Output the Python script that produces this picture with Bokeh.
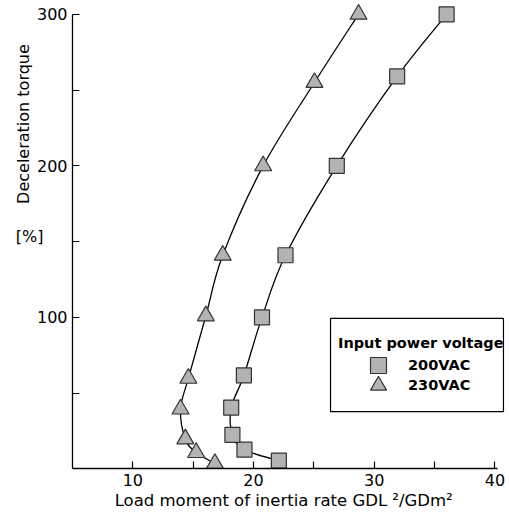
import numpy as np
from bokeh.plotting import figure
from bokeh.models import (Range1d, FixedTicker, Label, Legend, LegendItem,
                          BoxAnnotation)
from bokeh.embed import file_html
from bokeh.resources import INLINE

# ---- data ----
sq_x = [22.1, 19.25, 18.25, 18.15, 19.2, 20.7, 22.65, 26.9, 31.9, 36.0]
sq_y = [5.5, 12.7, 22.5, 40.5, 61.7, 100, 141, 200, 259, 300]
tri_x = [16.8, 15.25, 14.35, 13.95, 14.6, 16.05, 17.45, 20.8, 25.05, 28.7]
tri_y = [3.6, 10.8, 19.8, 39.5, 59.8, 101, 141, 200, 255, 300]
series_names = ["200VAC", "230VAC"]
legend_title = "Input power voltage"
x_ticks = [10, 15, 20, 25, 30, 35, 40]
x_tick_labels = ["10", "", "20", "", "30", "", "40"]
y_ticks = [50, 100, 150, 200, 250, 300]
y_tick_labels = ["", "100", "", "200", "", "300"]
x_title = "Load moment of inertia rate GDL \u00b2/GDm\u00b2"
y_title = "Deceleration torque"
y_unit = "[%]"

FONT = "DejaVu Sans"
FILL = "#b3b3b3"
EDGE = "#333333"
W, H = 509, 515


def smooth_segments(xs, ys):
    """Catmull-Rom -> cubic Bezier control points for a smooth line through the points."""
    xs = np.asarray(xs, float)
    ys = np.asarray(ys, float)
    n = len(xs)
    px = np.concatenate([[xs[0]], xs, [xs[-1]]])
    py = np.concatenate([[ys[0]], ys, [ys[-1]]])
    out = {k: [] for k in ("x0", "y0", "x1", "y1", "cx0", "cy0", "cx1", "cy1")}
    for i in range(1, n):
        out["x0"].append(px[i]); out["y0"].append(py[i])
        out["x1"].append(px[i + 1]); out["y1"].append(py[i + 1])
        out["cx0"].append(px[i] + (px[i + 1] - px[i - 1]) / 6)
        out["cy0"].append(py[i] + (py[i + 1] - py[i - 1]) / 6)
        out["cx1"].append(px[i + 1] - (px[i + 2] - px[i]) / 6)
        out["cy1"].append(py[i + 1] - (py[i + 2] - py[i]) / 6)
    return out


# frame covers the whole canvas; axes are pinned at x=5 / y=0
p = figure(width=W, height=H,
           x_range=Range1d(-0.966, 41.21), y_range=Range1d(-30.7, 309.1),
           output_backend="svg", toolbar_location=None,
           min_border_left=0, min_border_right=0,
           min_border_top=0, min_border_bottom=0)
p.outline_line_color = None
p.xgrid.visible = False
p.ygrid.visible = False
p.background_fill_color = "white"
p.border_fill_color = "white"

# curves
for xs, ys in ((sq_x, sq_y), (tri_x, tri_y)):
    seg = smooth_segments(xs, ys)
    p.bezier(x0="x0", y0="y0", x1="x1", y1="y1", cx0="cx0", cy0="cy0",
             cx1="cx1", cy1="cy1", source=seg, line_color="black", line_width=1.3)

r_sq = p.scatter(sq_x, sq_y, marker="square", size=15, fill_color=FILL,
                 line_color=EDGE, line_width=1.2)
r_tri = p.scatter(tri_x, tri_y, marker="triangle", size=17, fill_color=FILL,
                  line_color=EDGE, line_width=1.2)

# axes
p.xaxis.fixed_location = 0
p.yaxis.fixed_location = 5
for ax, ticks, labels, bnd in ((p.xaxis[0], x_ticks, x_tick_labels, (5, 40.2)),
                               (p.yaxis[0], y_ticks, y_tick_labels, (0, 300))):
    ax.ticker = FixedTicker(ticks=ticks)
    ax.major_label_overrides = {t: l for t, l in zip(ticks, labels)}
    ax.major_tick_in = 7
    ax.major_tick_out = 0
    ax.minor_tick_in = 0
    ax.minor_tick_out = 0
    ax.axis_line_color = "black"
    ax.axis_line_width = 1.3
    ax.major_tick_line_color = "black"
    ax.major_tick_line_width = 1.2
    ax.major_label_text_font = FONT
    ax.major_label_text_font_size = "16px"
    ax.major_label_text_color = "black"
    ax.bounds = bnd
p.xaxis.major_label_standoff = 5
p.yaxis.major_label_standoff = 5

# axis titles
p.add_layout(Label(x=22.5, y=-20.8, text=x_title, text_align="center",
                   text_baseline="middle", text_font=FONT, text_font_size="16.5px",
                   text_color="black"))
p.add_layout(Label(x=0.94, y=227.6, text=y_title, angle=np.pi / 2, text_align="center",
                   text_baseline="middle", text_font=FONT, text_font_size="16px",
                   text_color="black"))
p.add_layout(Label(x=1.44, y=153.1, text=y_unit, text_align="center",
                   text_baseline="middle", text_font=FONT, text_font_size="16px",
                   text_color="black"))

# legend frame + title
p.add_layout(BoxAnnotation(left=26.38, right=40.71, bottom=37.9, top=99.3,
                           fill_color="white", fill_alpha=1.0,
                           line_color="black", line_width=1.2, line_alpha=1.0))
p.add_layout(Label(x=27.0, y=82.8, text=legend_title, text_align="left",
                   text_baseline="middle", text_font=FONT, text_font_size="14.5px",
                   text_font_style="bold", text_color="black"))

common = dict(margin=0, padding=0, glyph_width=40, glyph_height=40,
              label_standoff=10, border_line_color=None,
              background_fill_alpha=0.0, label_text_font=FONT,
              label_text_font_size="14.5px", label_text_font_style="bold",
              label_text_color="black")
leg1 = Legend(items=[LegendItem(label=series_names[0], renderers=[r_sq])],
              location=(358, 130), **common)
leg2 = Legend(items=[LegendItem(label=series_names[1], renderers=[r_tri])],
              location=(358, 110), **common)
p.add_layout(leg1, "center")
p.add_layout(leg2, "center")

open("out.html", "w").write(file_html(p, INLINE))
